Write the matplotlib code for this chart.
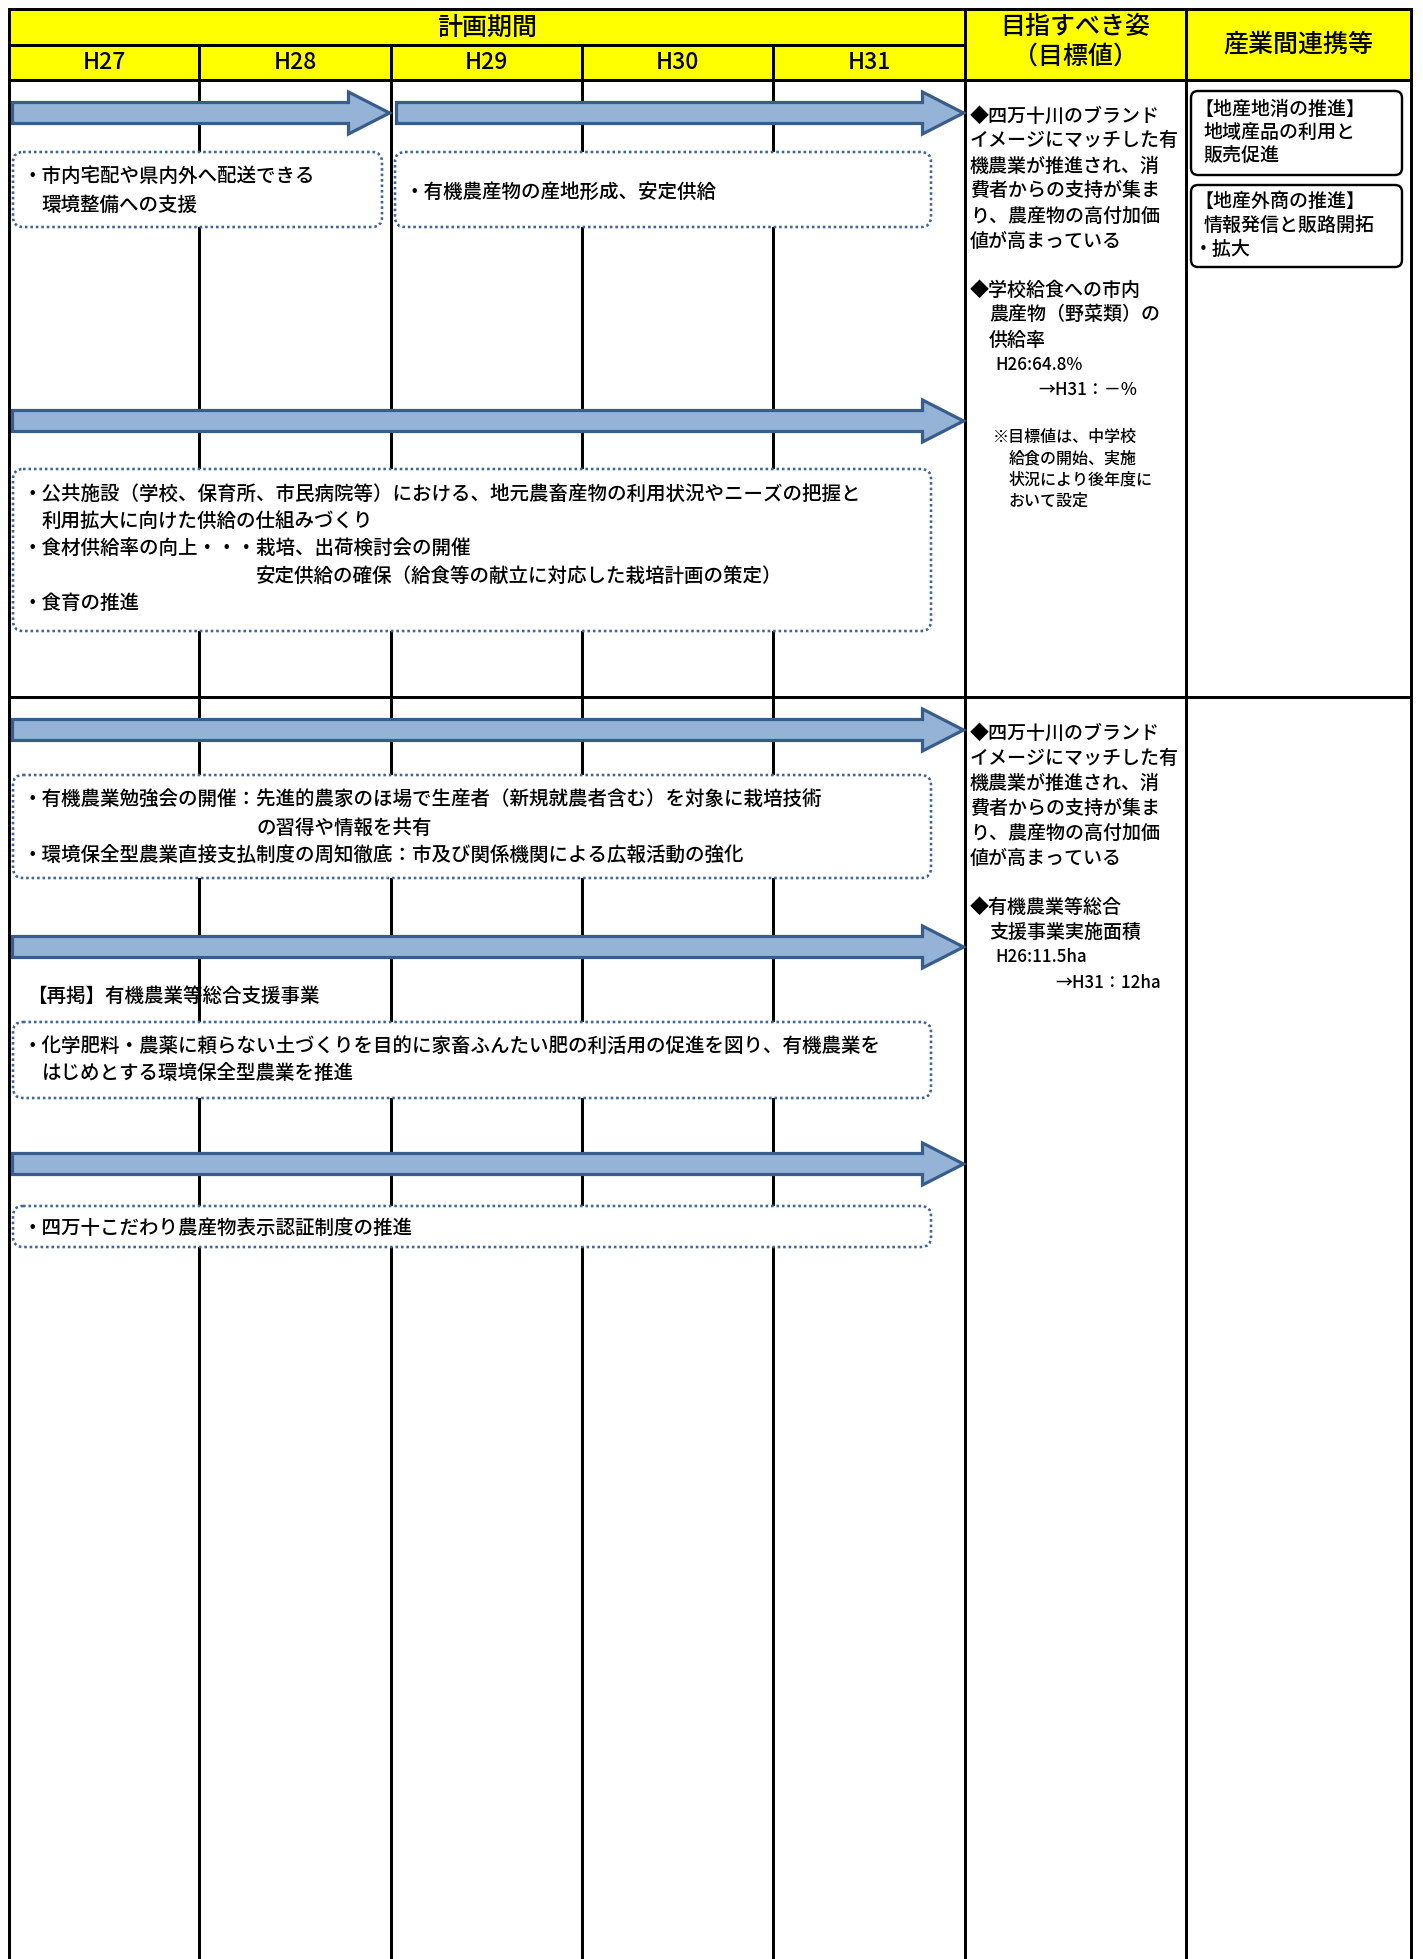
import matplotlib
matplotlib.use("Agg")
import matplotlib.pyplot as plt
from matplotlib.patches import Polygon, FancyBboxPatch, Rectangle

plt.rcParams['font.family'] = ['Noto Sans CJK JP', 'DejaVu Sans']
plt.rcParams['font.weight'] = 'medium'

DPI = 100
W, H = 1423, 1959
PT = 72 / DPI  # points per pixel

# ---- content ----
years = ["H27", "H28", "H29", "H30", "H31"]
plan_title = "計画期間"
goal_title = ["目指すべき姿", "（目標値）"]
link_title = "産業間連携等"

# arrows (first year -> last year)
arrow_from = ["H27", "H29", "H27", "H27", "H27", "H27"]
arrow_to = ["H28", "H31", "H31", "H31", "H31", "H31"]

# dotted boxes
box_from = ["H27", "H29", "H27", "H27", "H27", "H27"]
box_to = ["H28", "H31", "H31", "H31", "H31", "H31"]
box_lines = [
    ["・市内宅配や県内外へ配送できる", "  環境整備への支援"],
    ["・有機農産物の産地形成、安定供給"],
    ["・公共施設（学校、保育所、市民病院等）における、地元農畜産物の利用状況やニーズの把握と",
     "  利用拡大に向けた供給の仕組みづくり",
     "・食材供給率の向上・・・栽培、出荷検討会の開催",
     "                        安定供給の確保（給食等の献立に対応した栽培計画の策定）",
     "・食育の推進"],
    ["・有機農業勉強会の開催：先進的農家のほ場で生産者（新規就農者含む）を対象に栽培技術",
     "                        の習得や情報を共有",
     "・環境保全型農業直接支払制度の周知徹底：市及び関係機関による広報活動の強化"],
    ["・化学肥料・農薬に頼らない土づくりを目的に家畜ふんたい肥の利活用の促進を図り、有機農業を",
     "  はじめとする環境保全型農業を推進"],
    ["・四万十こだわり農産物表示認証制度の推進"],
]
repost_label = "【再掲】有機農業等総合支援事業"

# goal column
goal_brand = ["◆四万十川のブランド", "イメージにマッチした有", "機農業が推進され、消",
              "費者からの支持が集ま", "り、農産物の高付加価", "値が高まっている"]
goal_school = ["◆学校給食への市内", "  農産物（野菜類）の", "  供給率"]
goal_school_val = ["   H26:64.8%", "        →H31：－%"]
goal_note = ["※目標値は、中学校", "  給食の開始、実施", "  状況により後年度に", "  おいて設定"]
goal_area = ["◆有機農業等総合", "  支援事業実施面積"]
goal_area_val = ["   H26:11.5ha", "          →H31：12ha"]

# industry link column
link_a = ["【地産地消の推進】", " 地域産品の利用と", " 販売促進"]
link_b = ["【地産外商の推進】", " 情報発信と販路開拓", "・拡大"]

# ---- layout (pixels) ----
col_edges = [9, 199, 391, 582, 773, 965]
x_link, x_right = 1186, 1411
y_top, y_mid, y_head, y_split = 9, 45, 80, 697
arrow_y = [113, 113, 421, 730, 947, 1164]
box_y = [(152, 227), (152, 227), (469, 631), (775, 878), (1022, 1098), (1206, 1247)]
box_text_y = [176, 192, 494, 800, 1046, 1228]
box_step = [29, 27.5, 27.3, 27.5, 27, 27]
box_rpad = [9, 34, 34, 34, 34, 34]

LW = 3 * PT
FILL, EDGE = "#95B3D7", "#385D8A"
DOT = "#41649A"
FS = 19.5  # px, box text

fig = plt.figure(figsize=(W / DPI, H / DPI), dpi=DPI)
ax = fig.add_axes([0, 0, 1, 1])
ax.set_xlim(0, W)
ax.set_ylim(H, 0)
ax.axis('off')


def put_lines(x, y0, step, lines, size, z=6):
    for i, s in enumerate(lines):
        n = len(s) - len(s.lstrip(' '))
        ax.text(x + n * size / 2, y0 + i * step, s.lstrip(' '), fontsize=size * PT,
                ha='left', va='center', color='black', zorder=z)


def col_x(year):
    return years.index(year)


# header
ax.add_patch(Rectangle((col_edges[0], y_top), x_right - col_edges[0], y_head - y_top,
                       facecolor="#FFFF00", edgecolor='none', zorder=0))
ax.text((col_edges[0] + col_edges[-1]) / 2, (y_top + y_mid) / 2 + 1, plan_title,
        fontsize=25 * PT, ha='center', va='center', zorder=6)
for i, yr in enumerate(years):
    ax.text((col_edges[i] + col_edges[i + 1]) / 2, (y_mid + y_head) / 2, yr,
            fontsize=23 * PT, ha='center', va='center', zorder=6)
ax.text((col_edges[-1] + x_link) / 2, 27, goal_title[0], fontsize=25 * PT,
        ha='center', va='center', zorder=6)
ax.text((col_edges[-1] + x_link) / 2, 57, goal_title[1], fontsize=25 * PT,
        ha='center', va='center', zorder=6)
ax.text((x_link + x_right) / 2, (y_top + y_head) / 2, link_title, fontsize=25 * PT,
        ha='center', va='center', zorder=6)

# grid lines
for yy, x1 in [(y_top, x_right), (y_mid, col_edges[-1]), (y_head, x_right), (y_split, x_right)]:
    ax.plot([col_edges[0], x1], [yy, yy], color='black', lw=LW, zorder=1,
            solid_capstyle='projecting')
for xx in [col_edges[0], col_edges[-1], x_link, x_right]:
    ax.plot([xx, xx], [y_top, H], color='black', lw=LW, zorder=1, solid_capstyle='projecting')
for xx in col_edges[1:-1]:
    ax.plot([xx, xx], [y_mid, H], color='black', lw=LW, zorder=1)

# arrows
sh, hh, hl = 10.5, 21, 41
for a, b, yc in zip(arrow_from, arrow_to, arrow_y):
    i0, i1 = col_x(a), col_x(b) + 1
    x0 = col_edges[i0] + (3.5 if i0 == 0 else 5.5)
    x1 = col_edges[i1] - 1.5
    xh = x1 - hl
    pts = [(x0, yc - sh), (xh, yc - sh), (xh, yc - hh), (x1, yc),
           (xh, yc + hh), (xh, yc + sh), (x0, yc + sh)]
    ax.add_patch(Polygon(pts, closed=True, facecolor=FILL, edgecolor=EDGE,
                         lw=3.2 * PT, joinstyle='miter', zorder=3))

# dotted boxes
for a, b, (t, btm), ty, st, rp, lines in zip(box_from, box_to, box_y, box_text_y,
                                             box_step, box_rpad, box_lines):
    x0 = col_edges[col_x(a)] + 4
    x1 = col_edges[col_x(b) + 1] - rp
    ax.add_patch(FancyBboxPatch((x0, t), x1 - x0, btm - t,
                                boxstyle="round,pad=0,rounding_size=10",
                                facecolor='white', edgecolor=DOT, lw=2.6 * PT,
                                linestyle=(0, (1, 1.1)), zorder=4))
    put_lines(x0 + 9, ty, st, lines, FS)

put_lines(27, 996, 27, [repost_label], FS)

# goal column
gx = col_edges[-1] + 5
for y0 in [116, 733]:
    put_lines(gx, y0, 25, goal_brand, 19)
put_lines(gx, 290, 25, goal_school, 19)
put_lines(gx, 365, 25, goal_school_val, 17)
put_lines(gx + 23, 437, 21.5, goal_note, 16)
put_lines(gx, 907, 25, goal_area, 19)
put_lines(gx, 957, 25.5, goal_area_val, 17)

# industry link boxes
for (t, btm), y0, st, lines in [((91, 175), 109, 23, link_a), ((185, 267), 201, 24, link_b)]:
    ax.add_patch(FancyBboxPatch((x_link + 5, t), x_right - x_link - 14, btm - t,
                                boxstyle="round,pad=0,rounding_size=7",
                                facecolor='white', edgecolor='black', lw=2.4 * PT, zorder=4))
    put_lines(x_link + 8, y0, st, lines, 19)

fig.savefig("out.png", dpi=DPI)
